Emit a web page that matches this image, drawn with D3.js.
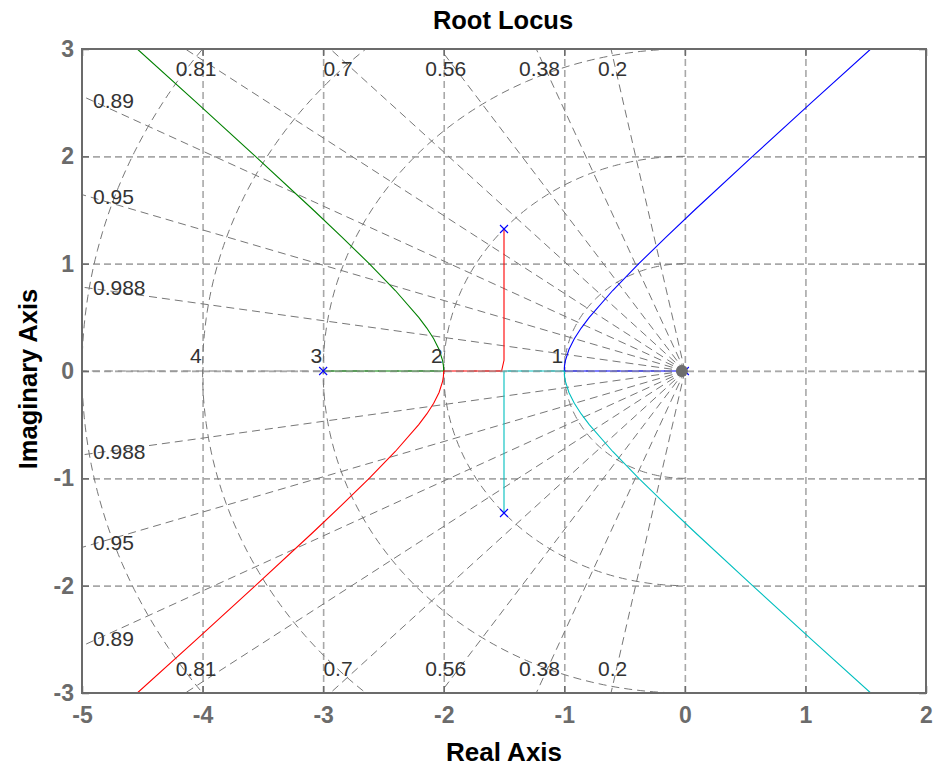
<!DOCTYPE html>
<html>
<head>
<meta charset="utf-8">
<script src="https://cdn.jsdelivr.net/npm/d3@7"></script>
<style>
  html, body { margin: 0; padding: 0; background: #ffffff; }
  svg { display: block; }
  text { font-family: "Liberation Sans", Arial, Helvetica, sans-serif; }
</style>
</head>
<body>
<svg id="chart" width="937" height="771"></svg>
<script>
// ---------------- data ----------------
const xTicks = [-5, -4, -3, -2, -1, 0, 1, 2];
const yTicks = [-3, -2, -1, 0, 1, 2, 3];
const xDomain = [-5, 2];
const yDomain = [-3, 3];

// damping ratio grid lines and their labels
const zetaValues = [0.2, 0.38, 0.56, 0.7, 0.81, 0.89, 0.95, 0.988];
const zetaLabels = ["0.2", "0.38", "0.56", "0.7", "0.81", "0.89", "0.95", "0.988"];
// natural frequency grid circles and their labels (5 has no visible label)
const wnValues = [1, 2, 3, 4, 5];
const wnLabels = ["1", "2", "3", "4"];

// open-loop poles
const polesRe = [0, -3, -1.5, -1.5];
const polesIm = [0, 0, 1.3229, -1.3229];

// root locus branches [real, imag]
const branchBlue = [[0,0],[-0.5,0],[-1,0],[-0.9975,0.05],[-0.9901,0.1],[-0.9615,0.2],[-0.9169,0.3],
  [-0.8597,0.4],[-0.7929,0.5],[-0.5986,0.75],[-0.382,1],[-0.1537,1.25],[0.0811,1.5],[0.5616,2],
  [1.0495,2.5],[1.5414,3],[1.7388,3.2]];
const branchGreen = [[-3,0],[-2.5,0],[-2,0],[-2.0025,0.05],[-2.0099,0.1],[-2.0385,0.2],[-2.0831,0.3],
  [-2.1403,0.4],[-2.2071,0.5],[-2.4014,0.75],[-2.618,1],[-2.8463,1.25],[-3.0811,1.5],[-3.5616,2],
  [-4.0495,2.5],[-4.5414,3],[-4.7388,3.2]];
const branchRed = [[-1.5,1.3229],[-1.5,0.6],[-1.5,0.1],[-1.52,0],[-1.75,0],[-2,0],[-2.0025,-0.05],
  [-2.0099,-0.1],[-2.0385,-0.2],[-2.0831,-0.3],[-2.1403,-0.4],[-2.2071,-0.5],[-2.4014,-0.75],
  [-2.618,-1],[-2.8463,-1.25],[-3.0811,-1.5],[-3.5616,-2],[-4.0495,-2.5],[-4.5414,-3],[-4.7388,-3.2]];
const branchCyan = [[-1.5,-1.3229],[-1.5,-0.6],[-1.5,0],[-1.25,0],[-1,0],[-0.9975,-0.05],[-0.9901,-0.1],
  [-0.9615,-0.2],[-0.9169,-0.3],[-0.8597,-0.4],[-0.7929,-0.5],[-0.5986,-0.75],[-0.382,-1],
  [-0.1537,-1.25],[0.0811,-1.5],[0.5616,-2],[1.0495,-2.5],[1.5414,-3],[1.7388,-3.2]];

const branches = [
  { pts: branchBlue,  color: "#0000ff" },
  { pts: branchGreen, color: "#008000" },
  { pts: branchRed,   color: "#ff0000" },
  { pts: branchCyan,  color: "#00bfbf" }
];

// ---------------- layout ----------------
const L = 82, R = 926, T = 49, B = 693;
const svg = d3.select("#chart");
const x = d3.scaleLinear().domain(xDomain).range([L, R]);
const y = d3.scaleLinear().domain(yDomain).range([B, T]);
const W = R - L, H = B - T;

svg.append("defs").append("clipPath").attr("id", "plotclip")
  .append("rect").attr("x", L).attr("y", T).attr("width", W).attr("height", H);

const plot = svg.append("g").attr("clip-path", "url(#plotclip)");

// ---------------- rectangular grid ----------------
const gridColor = "#a8a8a8";
const gx = plot.append("g").attr("transform", `translate(0,${B})`)
  .call(d3.axisBottom(x).tickValues(xTicks.filter(v => v > xDomain[0] && v < xDomain[1]))
    .tickSize(-H).tickFormat(""));
gx.select(".domain").remove();
gx.selectAll("line").attr("stroke", gridColor).attr("stroke-width", 1.6).attr("stroke-dasharray", "7,4");
const gy = plot.append("g").attr("transform", `translate(${L},0)`)
  .call(d3.axisLeft(y).tickValues(yTicks.filter(v => v > yDomain[0] && v < yDomain[1]))
    .tickSize(-W).tickFormat(""));
gy.select(".domain").remove();
gy.selectAll("line").attr("stroke", gridColor).attr("stroke-width", 1.6).attr("stroke-dasharray", "7,4");

// ---------------- s-plane grid (damping lines + wn arcs) ----------------
const sgColor = "#777777";
const sgDash = "8,5";
const sg = plot.append("g");
const far = 20;
zetaValues.forEach(z => {
  const s = Math.sqrt(1 - z * z);
  [1, -1].forEach(sign => {
    sg.append("line")
      .attr("x1", x(0)).attr("y1", y(0))
      .attr("x2", x(-far * z)).attr("y2", y(sign * far * s))
      .attr("stroke", sgColor).attr("stroke-width", 1).attr("stroke-dasharray", sgDash);
  });
});
// zeta = 1 line along negative real axis
sg.append("line").attr("x1", x(0)).attr("y1", y(0)).attr("x2", x(-far)).attr("y2", y(0))
  .attr("stroke", sgColor).attr("stroke-width", 1).attr("stroke-dasharray", sgDash);

const arcLine = d3.line().x(d => x(d[0])).y(d => y(d[1]));
wnValues.forEach(r => {
  const pts = d3.range(0, 181, 1).map(a => {
    const t = (90 + a) * Math.PI / 180;
    return [r * Math.cos(t), r * Math.sin(t)];
  });
  sg.append("path").attr("d", arcLine(pts)).attr("fill", "none")
    .attr("stroke", sgColor).attr("stroke-width", 1).attr("stroke-dasharray", sgDash);
});

// ---------------- loci ----------------
const line = d3.line().x(d => x(d[0])).y(d => y(d[1]));
branches.forEach(b => {
  plot.append("path").attr("d", line(b.pts)).attr("fill", "none")
    .attr("stroke", b.color).attr("stroke-width", 1.1);
});

// real axis dashes drawn over loci
plot.append("line").attr("x1", L).attr("x2", R).attr("y1", y(0)).attr("y2", y(0))
  .attr("stroke", gridColor).attr("stroke-width", 1.6).attr("stroke-dasharray", "7,4")
  .attr("opacity", 0.6);

// pole markers
const poles = polesRe.map((re, i) => [re, polesIm[i]]);
const mk = 4;
poles.forEach(p => {
  const cx = x(p[0]), cy = y(p[1]);
  plot.append("path")
    .attr("d", `M${cx - mk},${cy - mk}L${cx + mk},${cy + mk}M${cx - mk},${cy + mk}L${cx + mk},${cy - mk}`)
    .attr("stroke", "#0000ff").attr("stroke-width", 1.1).attr("fill", "none");
});

// convergence of the damping lines at the origin
plot.append("circle").attr("cx", x(0) - 3).attr("cy", y(0)).attr("r", 6)
  .attr("fill", "#6e6e6e");

// ---------------- s-grid labels ----------------
const labColor = "#333333";
const labSize = 21;
const lab = plot.append("g").attr("font-size", labSize).attr("fill", labColor);
zetaValues.forEach((z, i) => {
  const s = Math.sqrt(1 - z * z);
  const ratio = z / s; // |x| per |y|
  const xTop = -yDomain[1] * ratio;
  if (xTop >= xDomain[0]) {
    const yOff = y.invert(T + 7);
    const cx = x(-yOff * ratio);
    lab.append("text").attr("x", cx).attr("y", T + 27).attr("text-anchor", "middle").text(zetaLabels[i]);
    lab.append("text").attr("x", cx).attr("y", B - 17.5).attr("text-anchor", "middle").text(zetaLabels[i]);
  } else {
    const xv = x.invert(L + 12);
    const yv = -xv / ratio;
    lab.append("text").attr("x", L + 11).attr("y", y(yv) + 6).attr("text-anchor", "start").text(zetaLabels[i]);
    lab.append("text").attr("x", L + 11).attr("y", y(-yv) + 6).attr("text-anchor", "start").text(zetaLabels[i]);
  }
});
wnLabels.forEach((t, i) => {
  lab.append("text").attr("x", x(-wnValues[i]) - 1).attr("y", y(0) - 8)
    .attr("text-anchor", "end").text(t);
});

// ---------------- box, ticks, tick labels ----------------
const axColor = "#6b6b6b";
const tickFont = 23;
function styleAxis(g) {
  g.select(".domain").remove();
  g.selectAll(".tick line").attr("stroke", axColor).attr("stroke-width", 1.5);
  g.selectAll(".tick text").attr("fill", axColor).attr("font-size", tickFont)
    .attr("font-weight", "bold").style("font-family", '"Liberation Sans", Arial, sans-serif');
}
const fmt = d => d < 0 ? "-" + Math.abs(d) : String(d);
const ab = svg.append("g").attr("transform", `translate(0,${B})`)
  .call(d3.axisBottom(x).tickValues(xTicks).tickSizeInner(-7).tickSizeOuter(0).tickPadding(14).tickFormat(fmt));
styleAxis(ab);
const at = svg.append("g").attr("transform", `translate(0,${T})`)
  .call(d3.axisTop(x).tickValues(xTicks).tickSizeInner(-7).tickSizeOuter(0).tickFormat(""));
styleAxis(at);
const al = svg.append("g").attr("transform", `translate(${L},0)`)
  .call(d3.axisLeft(y).tickValues(yTicks).tickSizeInner(-7).tickSizeOuter(0).tickPadding(8).tickFormat(fmt));
styleAxis(al);
const ar = svg.append("g").attr("transform", `translate(${R},0)`)
  .call(d3.axisRight(y).tickValues(yTicks).tickSizeInner(-7).tickSizeOuter(0).tickFormat(""));
styleAxis(ar);

svg.append("rect").attr("x", L).attr("y", T).attr("width", W).attr("height", H)
  .attr("fill", "none").attr("stroke", axColor).attr("stroke-width", 2);

// ---------------- titles ----------------
svg.append("text").attr("x", (L + R) / 2 - 1).attr("y", 29).attr("text-anchor", "middle")
  .attr("font-size", 25.5).attr("font-weight", "bold").attr("fill", "#000").text("Root Locus");
svg.append("text").attr("x", (L + R) / 2 + 0).attr("y", 761).attr("text-anchor", "middle")
  .attr("font-size", 26).attr("font-weight", "bold").attr("fill", "#000").text("Real Axis");
svg.append("text").attr("transform", `translate(37,${(T + B) / 2 + 8}) rotate(-90)`).attr("text-anchor", "middle")
  .attr("font-size", 25.5).attr("font-weight", "bold").attr("fill", "#000").text("Imaginary Axis");
</script>
</body>
</html>
